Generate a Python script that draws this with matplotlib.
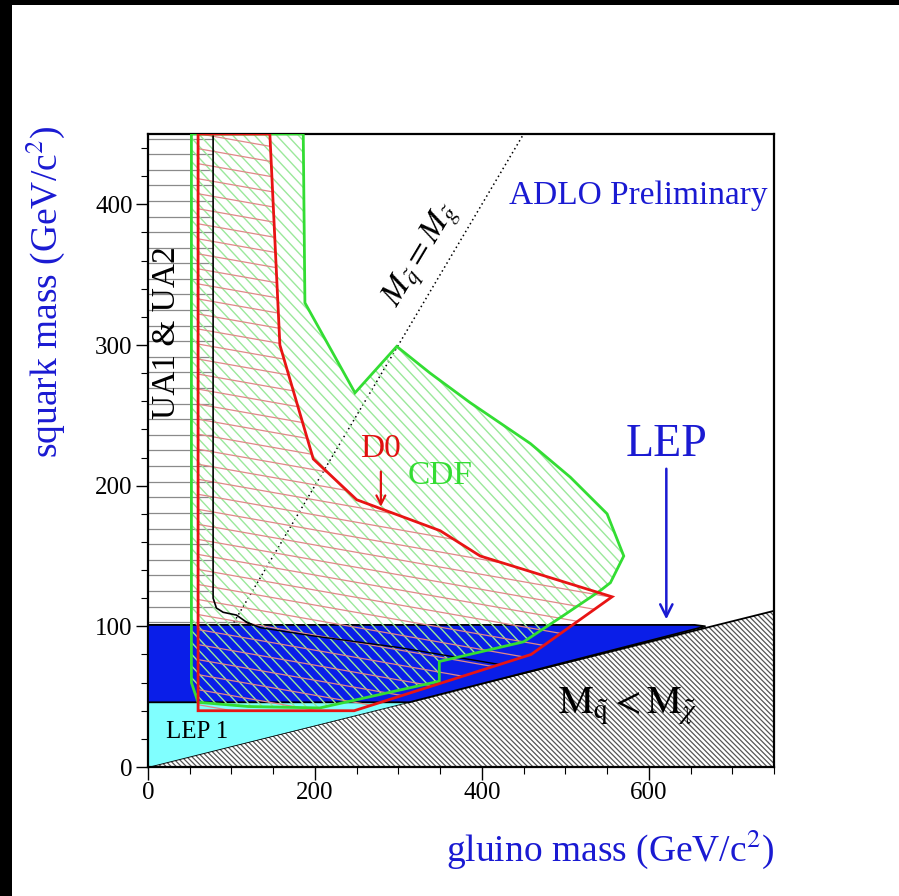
import numpy as np
import matplotlib
matplotlib.use('Agg')
import matplotlib.pyplot as plt
from matplotlib.patches import Polygon, Rectangle
from matplotlib.collections import LineCollection
from matplotlib.ticker import MultipleLocator

plt.rcParams['font.family'] = ['Liberation Serif', 'DejaVu Serif']
plt.rcParams['mathtext.fontset'] = 'stix'

# ---------------- data ----------------
x_ticks = [0, 200, 400, 600]
y_ticks = [0, 100, 200, 300, 400]

# kinematically forbidden region M_squark < M_chi
kin_x = [0, 750]
kin_y = [0, 111]

# LEP 1 excluded region
lep1_x = [0, 0, 313]
lep1_y = [0, 46, 46]

# LEP (ADLO) excluded region
lep_x = [0, 0, 655, 668, 313]
lep_y = [46, 101, 101, 100, 46]

# UA1 & UA2 excluded region
ua_x = [0, 0, 78, 78, 82, 90, 106, 118, 125]
ua_y = [101, 450, 450, 120, 113, 110, 108, 103, 101]

# continuation of the UA contour inside the LEP region
uac_x = [118, 135, 200, 300, 420]
uac_y = [103, 99, 93, 85, 73]

# D0 excluded region
d0_x = [60, 60, 247, 459, 556, 398, 350, 250, 198, 158, 146]
d0_y = [450, 40, 40, 80, 121, 150, 168, 190, 219, 300, 450]

# CDF excluded region
cdf_x = [52, 52, 60, 120, 206, 349, 349, 450, 496, 541, 554, 570, 550, 506,
         458, 386, 338, 298, 248, 188, 186]
cdf_y = [450, 60, 46, 43, 42, 61, 75, 89, 107, 125, 131, 150, 180, 206,
         230, 259, 280, 299, 266, 330, 450]

# M_squark = M_gluino line
diag_x = [100, 450]
diag_y = [100, 450]

# ---------------- figure ----------------
DPI = 100
fig = plt.figure(figsize=(8.99, 8.96), dpi=DPI)
fig.patch.set_facecolor('white')
ax_pos = [148 / 899, 129 / 896, 626 / 899, 633 / 896]
ax = fig.add_axes(ax_pos)
W = fig.get_figwidth() * DPI * ax_pos[2]
H = fig.get_figheight() * DPI * ax_pos[3]

# black frame bars (top & left)
fig.patches.append(Rectangle((0, 1 - 5 / 896), 1, 5 / 896, transform=fig.transFigure,
                             facecolor='black', edgecolor='none', zorder=0))
fig.patches.append(Rectangle((0, 0), 12 / 899, 1, transform=fig.transFigure,
                             facecolor='black', edgecolor='none', zorder=0))


def hatch(patch, angle, spacing, color, lw, z):
    th = np.deg2rad(angle)
    d = np.array([np.cos(th), np.sin(th)])
    n = np.array([-np.sin(th), np.cos(th)])
    L = np.hypot(W, H)
    c = np.array([W / 2, H / 2])
    segs = []
    for k in np.arange(-np.ceil(L / spacing), np.ceil(L / spacing) + 1):
        p0 = c + n * k * spacing - d * L
        p1 = c + n * k * spacing + d * L
        segs.append([(p0[0] / W, p0[1] / H), (p1[0] / W, p1[1] / H)])
    lc = LineCollection(segs, colors=color, linewidths=lw, transform=ax.transAxes,
                        zorder=z)
    ax.add_collection(lc, autolim=False)
    lc.set_clip_path(patch)
    return lc


# kinematic region
kin_poly = Polygon(np.column_stack([kin_x + [kin_x[-1]], kin_y + [0]]), closed=True,
                   facecolor='white', edgecolor='none', zorder=1)
ax.add_patch(kin_poly)
hatch(kin_poly, -45, 3.6, '#555555', 0.9, 1.1)
ax.plot(kin_x, kin_y, color='black', lw=1.3, zorder=1.2)

# LEP1
ax.add_patch(Polygon(np.column_stack([lep1_x, lep1_y]), closed=True,
                     facecolor='#80ffff', edgecolor='none', zorder=2))

# UA1 & UA2
ua_poly = Polygon(np.column_stack([ua_x, ua_y]), closed=True, facecolor='white',
                  edgecolor='none', zorder=2)
ax.add_patch(ua_poly)
hatch(ua_poly, 0, 15.6, '#8a8a8a', 0.9, 2.1)
ax.plot(ua_x[1:], ua_y[1:], color='black', lw=1.2, zorder=6)
ax.plot(uac_x, uac_y, color='black', lw=1.0, zorder=6)

# LEP ADLO
ax.add_patch(Polygon(np.column_stack([lep_x, lep_y]), closed=True,
                     facecolor='#0a1ee8', edgecolor='black', lw=1.3, zorder=3))

# diagonal
ax.plot(diag_x, diag_y, color='black', lw=1.1, ls=(0, (1, 2)), zorder=2.5)

# CDF
cdf_poly = Polygon(np.column_stack([cdf_x, cdf_y]), closed=True, facecolor='none',
                   edgecolor='none', zorder=4)
ax.add_patch(cdf_poly)
hatch(cdf_poly, -47, 8.0, '#9be89b', 1.0, 4.1)
ax.add_patch(Polygon(np.column_stack([cdf_x, cdf_y]), closed=True, facecolor='none',
                     edgecolor='#33dd33', lw=2.0, zorder=6.2))

# D0
d0_poly = Polygon(np.column_stack([d0_x, d0_y]), closed=True, facecolor='none',
                  edgecolor='none', zorder=4)
ax.add_patch(d0_poly)
hatch(d0_poly, -10, 14.8, '#e08888', 0.9, 4.2)
ax.add_patch(Polygon(np.column_stack([d0_x, d0_y]), closed=True, facecolor='none',
                     edgecolor='#e81414', lw=2.0, zorder=6.3))

# ---------------- texts ----------------
blue = '#1a1ad2'
ax.text(588, 406, 'ADLO Preliminary', color=blue, fontsize=24, ha='center',
        va='center', zorder=8)
ax.text(621, 229, 'LEP', color=blue, fontsize=33, ha='center', va='center', zorder=8)
ax.annotate('', xy=(621, 103), xytext=(621, 214),
            arrowprops=dict(arrowstyle='->', color=blue, lw=1.8,
                            mutation_scale=22), zorder=8)
ax.text(279, 226, 'D0', color='#e01010', fontsize=24, ha='center', va='center',
        zorder=8)
ax.annotate('', xy=(279, 183), xytext=(279, 212),
            arrowprops=dict(arrowstyle='->', color='#e01010', lw=1.6,
                            mutation_scale=16), zorder=8)
ax.text(350, 207, 'CDF', color='#33dd33', fontsize=24, ha='center', va='center',
        zorder=8)
ax.text(22, 309, 'UA1 & UA2', color='black', fontsize=24, rotation=90,
        ha='center', va='center', zorder=8)
ax.text(59, 25, 'LEP 1', color='black', fontsize=18, ha='center', va='center',
        zorder=8)
ax.text(575, 43, r'$\mathrm{M}_{\tilde{\mathrm{q}}} < \mathrm{M}_{\tilde{\chi}}$',
        color='black', fontsize=28, ha='center', va='center', zorder=8)
ax.text(328, 364, r'$M_{\tilde{q}} = M_{\tilde{g}}$', color='black', fontsize=24,
        rotation=59, ha='center', va='center', zorder=8)

# ---------------- axes ----------------
ax.set_xlim(0, 750)
ax.set_ylim(0, 450)
ax.set_xticks(x_ticks)
ax.set_yticks(y_ticks)
ax.xaxis.set_minor_locator(MultipleLocator(50))
ax.yaxis.set_minor_locator(MultipleLocator(20))
ax.tick_params(which='major', direction='out', length=9, width=1.0, labelsize=18,
               pad=2, top=False, right=False)
ax.tick_params(which='minor', direction='out', length=5, width=0.8,
               top=False, right=False)
for s in ax.spines.values():
    s.set_linewidth(1.6)

ax.set_xlabel(r'gluino mass (GeV/c$^{2}$)', color=blue, fontsize=27)
ax.xaxis.set_label_coords(1.0, -0.13)
ax.xaxis.label.set_horizontalalignment('right')
ax.xaxis.label.set_verticalalignment('center')
ax.set_ylabel(r'squark mass (GeV/c$^{2}$)', color=blue, fontsize=27)
ax.yaxis.set_label_coords(-0.165, 1.014)
ax.yaxis.label.set_rotation_mode('anchor')
ax.yaxis.label.set_horizontalalignment('right')
ax.yaxis.label.set_verticalalignment('center')

fig.savefig('out.png', dpi=DPI, facecolor='white')
